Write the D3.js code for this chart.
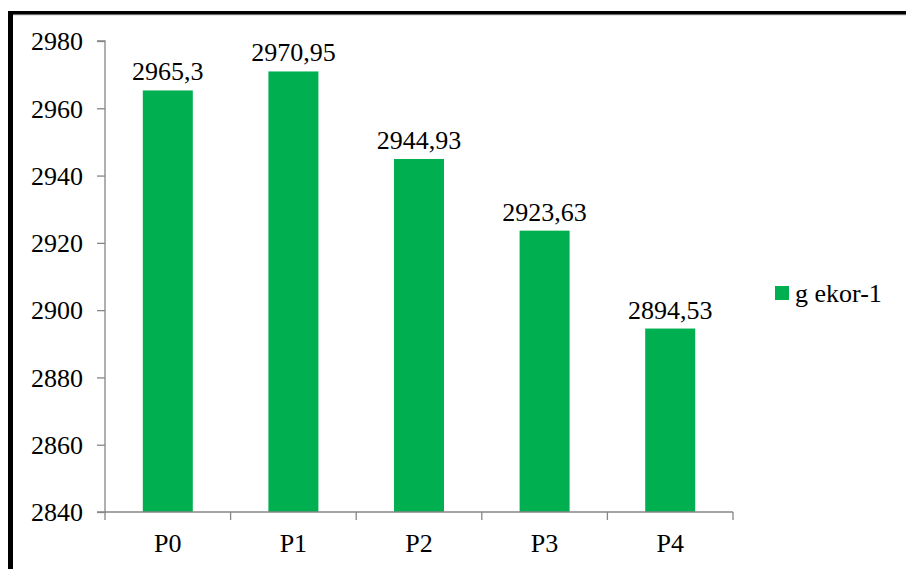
<!DOCTYPE html>
<html>
<head>
<meta charset="utf-8">
<script src="https://cdn.jsdelivr.net/npm/d3@7"></script>
<style>
  html, body { margin: 0; padding: 0; background: #fff; }
  svg { display: block; }
  svg text { font-family: "Liberation Serif", Tinos, "Times New Roman", Times, "DejaVu Serif", serif !important; fill: #000; }
</style>
</head>
<body>
<script>
const categories = ["P0", "P1", "P2", "P3", "P4"];
const values = [2965.3, 2970.95, 2944.93, 2923.63, 2894.53];
const valueLabels = ["2965,3", "2970,95", "2944,93", "2923,63", "2894,53"];
const yTicks = [2840, 2860, 2880, 2900, 2920, 2940, 2960, 2980];
const seriesName = "g ekor-1";

const W = 906, H = 569;
const FONT = "'Liberation Serif', Tinos, 'Times New Roman', Times, 'DejaVu Serif', serif";
const svg = d3.select("body").append("svg").attr("width", W).attr("height", H);

// frame borders
svg.append("rect").attr("x", 0).attr("y", 0).attr("width", W).attr("height", H).attr("fill", "#fff");
svg.append("rect").attr("x", 8).attr("y", 14).attr("width", W - 8).attr("height", 1.5).attr("fill", "#d0d0d0");
svg.append("rect").attr("x", 8).attr("y", 11).attr("width", W - 8).attr("height", 3.5).attr("fill", "#000");
svg.append("rect").attr("x", 8).attr("y", 11).attr("width", 5).attr("height", H - 11).attr("fill", "#000");

const x0 = 105, x1 = 733, yTop = 41, yBot = 512;
const x = d3.scaleBand().domain(categories).range([x0, x1]).paddingInner(0).paddingOuter(0);
const y = d3.scaleLinear().domain([2840, 2980]).range([yBot, yTop]);
const barW = 50;
const axisColor = "#868686";

// bars
svg.selectAll("rect.bar").data(values).enter().append("rect")
  .attr("class", "bar")
  .attr("x", (d, i) => x(categories[i]) + x.bandwidth() / 2 - barW / 2)
  .attr("y", d => y(d))
  .attr("width", barW)
  .attr("height", d => yBot - y(d))
  .attr("fill", "#00B050");

// value labels
svg.selectAll("text.val").data(values).enter().append("text")
  .attr("class", "val")
  .attr("x", (d, i) => x(categories[i]) + x.bandwidth() / 2)
  .attr("y", d => y(d) - 10)
  .attr("text-anchor", "middle")
  .attr("font-size", 26)
  .style("font-family", FONT)
  .text((d, i) => valueLabels[i]);

// y axis
const yAxis = d3.axisLeft(y).tickValues(yTicks).tickSize(8).tickPadding(14).tickFormat(d3.format("d"));
const gy = svg.append("g").attr("transform", `translate(${x0},0)`).call(yAxis);
gy.attr("font-family", FONT).attr("font-size", 26);
gy.select(".domain").attr("stroke", axisColor).attr("stroke-width", 1.3).attr("d", `M-8,${yTop}H0V${yBot}H-8`);
gy.selectAll(".tick line").attr("stroke", axisColor).attr("stroke-width", 1.3);
gy.selectAll(".tick text").style("font-family", FONT).attr("font-size", 26).attr("fill", "#000").attr("dy", "0.34em");

// x axis
const gx = svg.append("g").attr("transform", `translate(0,${yBot})`);
gx.append("line").attr("x1", x0).attr("x2", x1).attr("y1", 0).attr("y2", 0).attr("stroke", axisColor).attr("stroke-width", 1.3);
const bounds = categories.map(c => x(c)).concat([x1]);
gx.selectAll("line.tk").data(bounds).enter().append("line")
  .attr("class", "tk")
  .attr("x1", d => d).attr("x2", d => d).attr("y1", 0).attr("y2", 8)
  .attr("stroke", axisColor).attr("stroke-width", 1.3);
gx.selectAll("text.cat").data(categories).enter().append("text")
  .attr("class", "cat")
  .attr("x", d => x(d) + x.bandwidth() / 2)
  .attr("y", 40)
  .attr("text-anchor", "middle")
  .attr("font-size", 26)
  .style("font-family", FONT)
  .text(d => d);

// legend
svg.append("rect").attr("x", 775).attr("y", 286).attr("width", 14).attr("height", 14).attr("fill", "#00B050");
svg.append("text").attr("x", 795).attr("y", 302).attr("font-size", 26).style("font-family", FONT).text(seriesName);
</script>
</body>
</html>
